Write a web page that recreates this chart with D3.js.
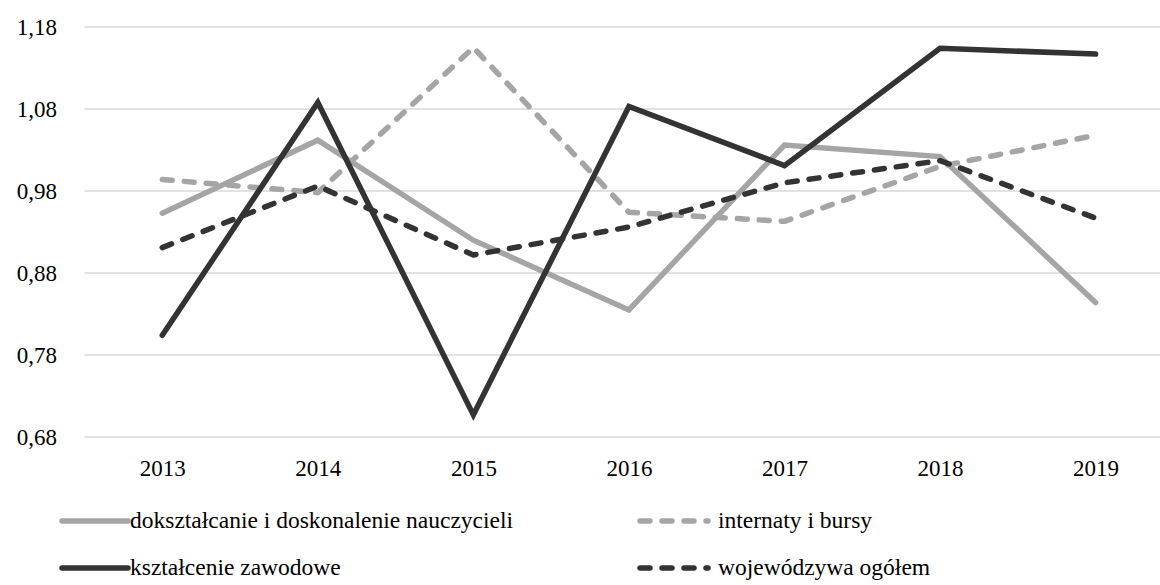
<!DOCTYPE html>
<html>
<head>
<meta charset="utf-8">
<script src="https://cdn.jsdelivr.net/npm/d3@7"></script>
<style>
  html, body { margin: 0; padding: 0; background: #fff; }
  svg { display: block; }
  text { font-family: "Liberation Serif", "DejaVu Serif", serif; fill: #000; }
</style>
</head>
<body>
<svg id="chart" width="1160" height="585" font-family="Liberation Serif"></svg>
<script>
// Years on the category axis
const years = ["2013", "2014", "2015", "2016", "2017", "2018", "2019"];

// Index values per year
const doksztalcanie = [0.953, 1.042, 0.920, 0.835, 1.036, 1.022, 0.844];
const internaty     = [0.994, 0.978, 1.155, 0.954, 0.943, 1.010, 1.048];
const ksztalcenie   = [0.804, 1.088, 0.707, 1.083, 1.011, 1.154, 1.147];
const wojewodztwo   = [0.911, 0.986, 0.902, 0.936, 0.990, 1.017, 0.947];

// Value axis tick labels
const yTicks = [0.68, 0.78, 0.88, 0.98, 1.08, 1.18];
const yTickLabels = ["0,68", "0,78", "0,88", "0,98", "1,08", "1,18"];

const seriesNames = [
  "dokształcanie i doskonalenie nauczycieli",
  "internaty i bursy",
  "kształcenie zawodowe",
  "wojewódzywa ogółem"
];

const series = [
  { name: seriesNames[0], values: doksztalcanie, color: "#a5a5a5", dash: null },
  { name: seriesNames[1], values: internaty,     color: "#a5a5a5", dash: "10 12" },
  { name: seriesNames[2], values: ksztalcenie,   color: "#333333", dash: null },
  { name: seriesNames[3], values: wojewodztwo,   color: "#333333", dash: "10 12" }
];

const svg = d3.select("#chart");

const plotLeft = 84.5, step = 155.55;
const x = d3.scalePoint()
  .domain(years)
  .range([plotLeft + step / 2, plotLeft + step * (years.length - 0.5)]);

const y = d3.scaleLinear().domain([0.68, 1.18]).range([437, 27]);

// horizontal grid
svg.append("g")
  .selectAll("line")
  .data(yTicks)
  .join("line")
  .attr("x1", plotLeft)
  .attr("x2", 1160)
  .attr("y1", d => y(d))
  .attr("y2", d => y(d))
  .attr("stroke", "#d9d9d9")
  .attr("stroke-width", 1.5);

// value axis labels
const yAxis = d3.axisLeft(y)
  .tickValues(yTicks)
  .tickFormat((d, i) => yTickLabels[i])
  .tickSize(0)
  .tickPadding(0);
const yg = svg.append("g").attr("transform", "translate(57,0)").call(yAxis);
yg.attr("font-family", "Liberation Serif");
yg.select(".domain").remove();
yg.selectAll("text")
  .attr("font-size", 23)
  .attr("fill", "#000")
  .attr("dy", "0.33em");

// category axis labels
const xAxis = d3.axisBottom(x).tickSize(0).tickPadding(0);
const xg = svg.append("g").attr("transform", "translate(0,460)").call(xAxis);
xg.attr("font-family", "Liberation Serif");
xg.select(".domain").remove();
xg.selectAll("text")
  .attr("font-size", 23)
  .attr("fill", "#000")
  .attr("dy", "0.71em");

// series lines
const line = d3.line()
  .x((d, i) => x(years[i]))
  .y(d => y(d));

svg.append("g")
  .selectAll("path")
  .data(series)
  .join("path")
  .attr("d", s => line(s.values))
  .attr("fill", "none")
  .attr("stroke", s => s.color)
  .attr("stroke-width", 5.5)
  .attr("stroke-linecap", "round")
  .attr("stroke-linejoin", s => s.dash ? "round" : "miter")
  .attr("stroke-dasharray", s => s.dash);

// legend: two columns, two rows
const legendPos = [
  { lx: 62,  ly: 521, tx: 68 },
  { lx: 640, ly: 521, tx: 78 },
  { lx: 62,  ly: 568, tx: 68 },
  { lx: 640, ly: 568, tx: 78 }
];
const lg = svg.append("g")
  .selectAll("g")
  .data(series)
  .join("g")
  .attr("transform", (s, i) => `translate(${legendPos[i].lx},${legendPos[i].ly})`);

lg.append("line")
  .attr("x1", 0)
  .attr("x2", (s, i) => s.dash ? 68 : 66)
  .attr("y1", 0)
  .attr("y2", 0)
  .attr("stroke", s => s.color)
  .attr("stroke-width", 5.5)
  .attr("stroke-linecap", "round")
  .attr("stroke-dasharray", s => s.dash);

lg.append("text")
  .attr("x", (s, i) => legendPos[i].tx)
  .attr("y", 7)
  .attr("font-family", "Liberation Serif")
  .attr("font-size", 23.5)
  .text(s => s.name);
</script>
</body>
</html>
